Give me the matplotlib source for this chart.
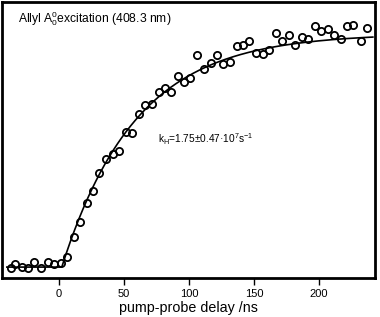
import numpy as np
import matplotlib
matplotlib.use("Agg")
import matplotlib.pyplot as plt

plt.rcParams['font.family'] = ['Liberation Sans', 'DejaVu Sans']
plt.rcParams['mathtext.fontset'] = 'custom'
plt.rcParams['mathtext.rm'] = 'Liberation Sans'
plt.rcParams['mathtext.it'] = 'Liberation Sans'

delay_ns = [-37.2, -34.1, -29.0, -23.9, -19.3, -13.9, -8.9, -4.1, 1.3, 6.2,
            11.3, 15.9, 21.3, 26.3, 30.8, 36.0, 41.1, 45.8, 51.4, 56.2,
            61.2, 66.3, 71.4, 76.6, 81.2, 86.3, 91.4, 96.3, 100.7, 106.3,
            111.5, 116.6, 121.5, 126.3, 131.5, 136.7, 141.5, 146.4, 151.5, 156.7,
            161.8, 166.9, 171.6, 176.7, 181.8, 186.9, 191.6, 196.8, 201.8, 207.0,
            211.6, 216.8, 221.9, 226.5, 232.2, 236.8]
signal = [-0.001, 0.016, 0.006, 0.001, 0.025, -0.001, 0.027, 0.017, 0.023, 0.049,
          0.135, 0.201, 0.284, 0.333, 0.415, 0.475, 0.496, 0.507, 0.593, 0.586,
          0.670, 0.709, 0.713, 0.767, 0.781, 0.767, 0.835, 0.810, 0.825, 0.925,
          0.864, 0.891, 0.925, 0.886, 0.895, 0.966, 0.968, 0.987, 0.933, 0.928,
          0.947, 1.020, 0.988, 1.014, 0.971, 1.003, 0.996, 1.052, 1.030, 1.038,
          1.013, 0.996, 1.052, 1.057, 0.988, 1.042]

# fit parameters
k_H = 1.75e7      # s^-1
t0_ns = 2.0
baseline = 0.004
amplitude = 1.015
fit_range = (-40.3, 241.5)

x_ticks = [0, 50, 100, 150, 200]

t = np.linspace(fit_range[0], fit_range[1], 600)
fit = np.where(t < t0_ns, baseline,
               baseline + amplitude * (1 - np.exp(-k_H * (t - t0_ns) * 1e-9)))

fig = plt.figure(figsize=(3.8, 3.17), dpi=100)
ax = fig.add_axes([0.005, 0.123, 0.982, 0.871])
ax.plot(t, fit, color='black', lw=1.2)
ax.plot(delay_ns, signal, 'o', mfc='none', mec='black', ms=5.2, mew=1.3)

ax.set_xlim(-44.1, 243.2)
ax.set_ylim(-0.0435, 1.1565)
ax.set_xticks(x_ticks)
ax.set_yticks([])
ax.tick_params(axis='x', direction='out', length=5, width=1, labelsize=8, pad=3)
for s in ax.spines.values():
    s.set_linewidth(2)

ax.set_xlabel('pump-probe delay /ns', fontsize=10.3, labelpad=1)
ax.text(16 / 373, 1 - 17 / 276, r'Allyl A$_0^0$excitation (408.3 nm)',
        transform=ax.transAxes, fontsize=8.7, va='center', ha='left')
ax.text(156 / 373, 1 - 137 / 276, r'k$_\mathrm{H}$=1.75±0.47·10$^7$s$^{-1}$',
        transform=ax.transAxes, fontsize=7.3, va='center', ha='left')

fig.savefig('out.png', dpi=100)
